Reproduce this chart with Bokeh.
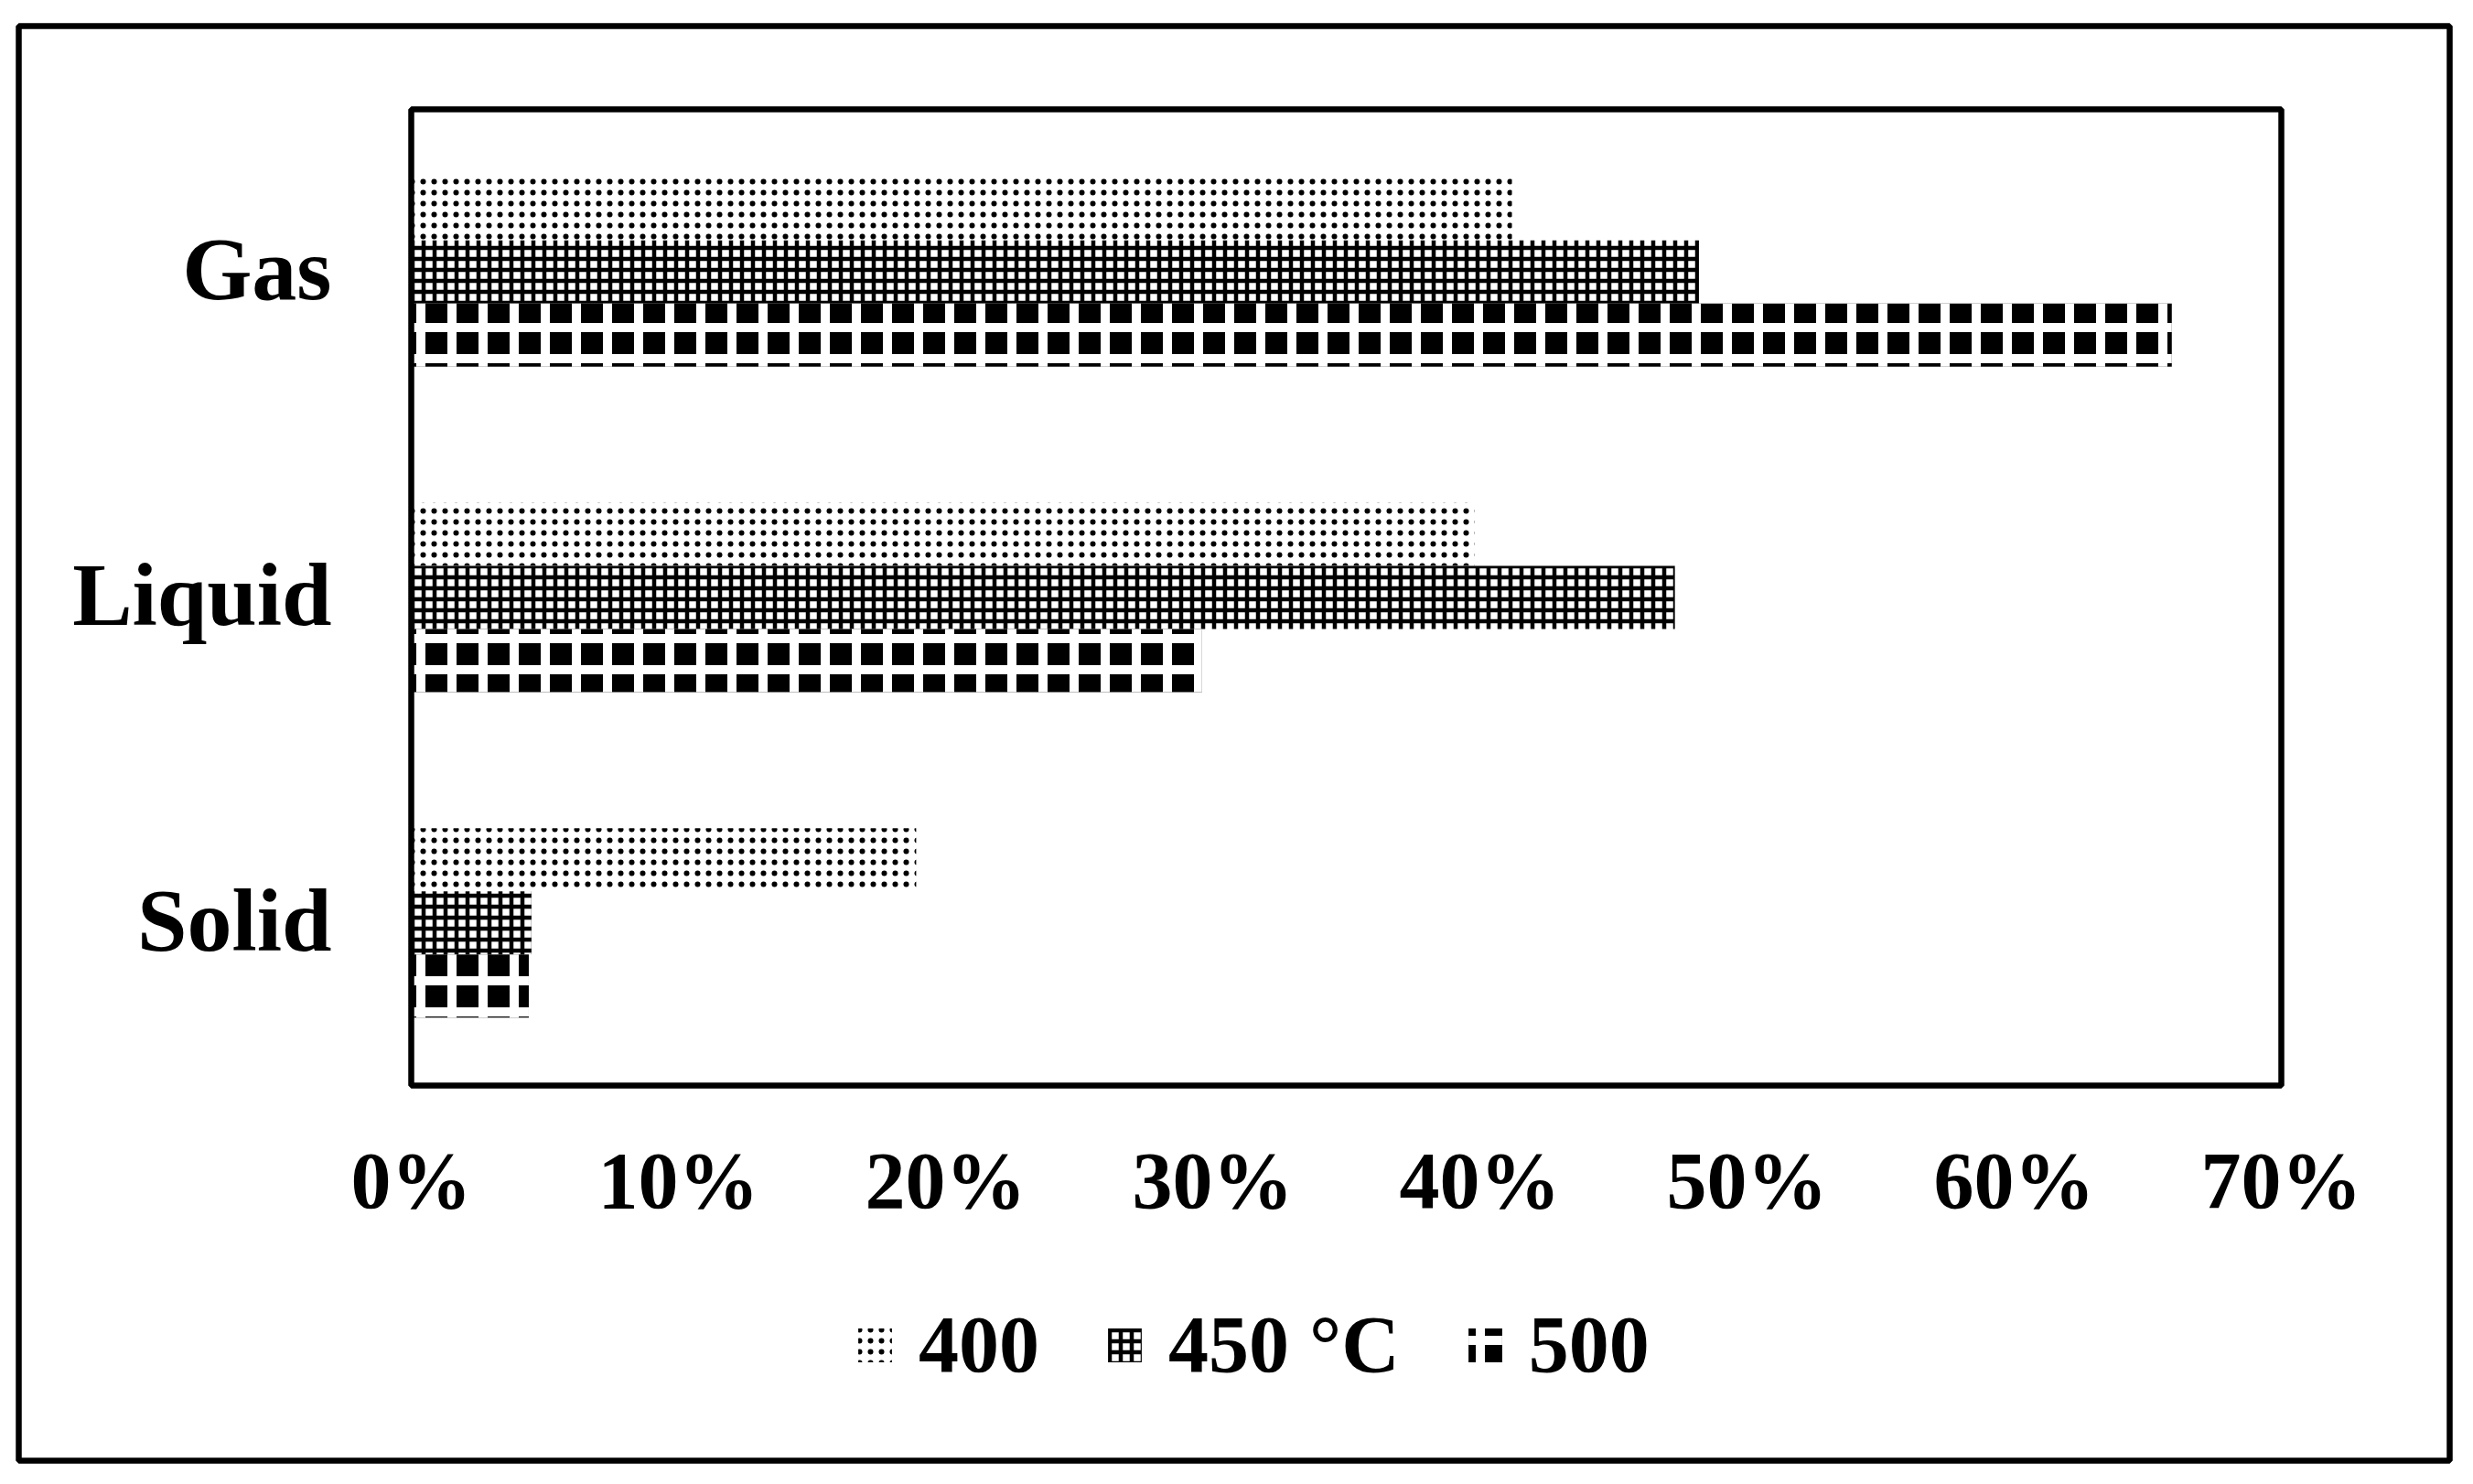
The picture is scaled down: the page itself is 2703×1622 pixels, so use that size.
from bokeh.plotting import figure
from bokeh.models import Range1d, Legend, LegendItem
from bokeh.core.properties import value
from bokeh.embed import file_html
from bokeh.resources import INLINE

# ---- data ----
categories = ["Solid", "Liquid", "Gas"]
series_labels = ["400", "450 °C", "500"]
yield_400 = [0.189, 0.398, 0.412]
yield_450 = [0.045, 0.473, 0.482]
yield_500 = [0.044, 0.296, 0.659]
x_ticks = [0.0, 0.1, 0.2, 0.3, 0.4, 0.5, 0.6, 0.7]
x_tick_labels = ["0%", "10%", "20%", "30%", "40%", "50%", "60%", "70%"]

FONT = "Liberation Serif"

# ---- geometry (pixels) ----
ORIGIN = 0                                        # page position of the canvas
W, H = 2695, 1614
FR_L, FR_R, FR_T, FR_B = 20, 2677, 28, 1596       # outer box (page px)
IN_L, IN_R, IN_T, IN_B = 449, 2493, 119, 1186     # inner plot box (page px)
px_x = (IN_R - IN_L) / (x_ticks[-1] - x_ticks[0])
px_y = (IN_B - IN_T) / len(categories)
x0 = x_ticks[0] - (IN_L - FR_L) / px_x
x1 = x_ticks[-1] + (FR_R - IN_R) / px_x
y0 = -(FR_B - IN_B) / px_y
y1 = len(categories) + (IN_T - FR_T) / px_y

p = figure(width=W, height=H, x_range=Range1d(x0, x1), y_range=Range1d(y0, y1),
           output_backend="svg", toolbar_location=None,
           min_border_left=FR_L - ORIGIN, min_border_right=W + ORIGIN - FR_R,
           min_border_top=FR_T - ORIGIN, min_border_bottom=H + ORIGIN - FR_B)
p.axis.visible = False
p.grid.visible = False
p.background_fill_color = "white"
p.border_fill_color = "white"
p.outline_line_color = "black"
p.outline_line_width = 6.5

cat_pos = [i + 0.5 for i in range(len(categories))]
bh = 0.194
src = dict(cat=cat_pos, v400=yield_400, v450=yield_450, v500=yield_500,
           y400=[c + bh for c in cat_pos], y450=cat_pos, y500=[c - bh for c in cat_pos])

r400 = p.hbar(y="y400", right="v400", left=0, height=bh, source=src,
              fill_color="white", line_color=None,
              hatch_pattern="dot", hatch_color="black", hatch_scale=12, hatch_weight=1)
r450 = p.hbar(y="y450", right="v450", left=0, height=bh, source=src,
              fill_color="white", line_color=None,
              hatch_pattern="cross", hatch_color="black", hatch_scale=12, hatch_weight=4.5)
r500 = p.hbar(y="y500", right="v500", left=0, height=bh, source=src,
              fill_color="black", line_color=None,
              hatch_pattern="cross", hatch_color="white", hatch_scale=34, hatch_weight=10)

# inner plot box
p.quad(left=[x_ticks[0]], right=[x_ticks[-1]], bottom=[0], top=[len(categories)],
       fill_color=None, line_color="black", line_width=6.5)

# x tick labels
p.text(x=x_ticks, y=[0] * len(x_ticks), text=x_tick_labels,
       text_font=value(FONT), text_font_style="bold", text_font_size="88px",
       text_color="black", text_align="center", text_baseline="alphabetic", y_offset=104)

# category labels
p.text(x=[0] * len(categories), y=cat_pos, text=categories,
       text_font=value(FONT), text_font_style="bold", text_font_size="98px",
       text_color="black", text_align="right", text_baseline="alphabetic",
       x_offset=-87, y_offset=-3)

legend = Legend(items=[LegendItem(label=series_labels[0], renderers=[r400]),
                       LegendItem(label=series_labels[1], renderers=[r450]),
                       LegendItem(label=series_labels[2], renderers=[r500])],
                orientation="horizontal", location=(933 - FR_L, 76),
                glyph_width=46, glyph_height=46, label_standoff=25, spacing=70,
                padding=0, margin=0, border_line_color=None, background_fill_alpha=0,
                label_text_font=FONT, label_text_font_style="bold", label_text_font_size="88px",
                label_text_color="black")
p.add_layout(legend, "center")

open("out.html", "w").write(file_html(p, INLINE))
